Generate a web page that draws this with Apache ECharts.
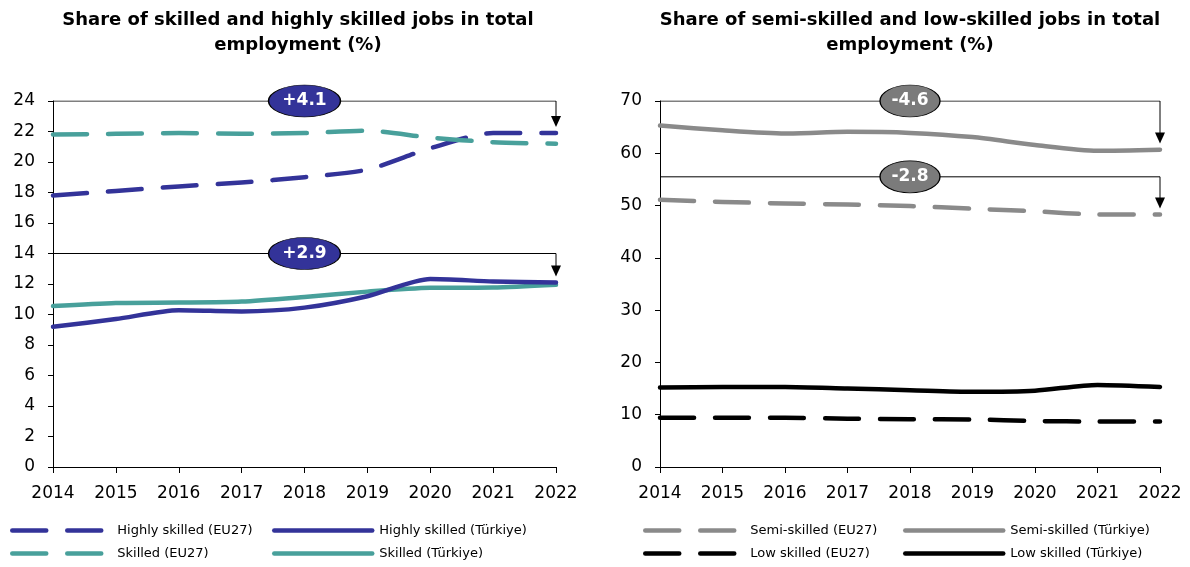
<!DOCTYPE html>
<html>
<head>
<meta charset="utf-8">
<script src="https://cdn.jsdelivr.net/npm/echarts@6/dist/echarts.min.js"></script>
<style>
  html, body { margin: 0; padding: 0; background: #ffffff; }
  #chart { width: 1190px; height: 567px; }
</style>
</head>
<body>
<div id="chart"></div>
<script>
// Years on the horizontal axis
const years = ['2014', '2015', '2016', '2017', '2018', '2019', '2020', '2021', '2022'];

// Share of jobs in total employment (%), by skill level
const highlyEU  = [17.8, 18.1, 18.4, 18.65, 19.0, 19.5, 20.9, 21.9, 21.9];
const highlyTR  = [9.2, 9.7, 10.28, 10.2, 10.45, 11.2, 12.33, 12.17, 12.1];
const skilledEU = [21.8, 21.85, 21.9, 21.85, 21.9, 22.05, 21.6, 21.3, 21.2];
const skilledTR = [10.55, 10.75, 10.78, 10.85, 11.15, 11.5, 11.75, 11.77, 11.95];

const semiEU = [51.1, 50.7, 50.4, 50.2, 49.9, 49.4, 48.9, 48.3, 48.3];
const semiTR = [65.3, 64.4, 63.8, 64.1, 63.9, 63.1, 61.6, 60.5, 60.7];
const lowEU  = [9.4, 9.4, 9.4, 9.25, 9.15, 9.1, 8.8, 8.7, 8.7];
const lowTR  = [15.2, 15.3, 15.3, 15.0, 14.7, 14.4, 14.6, 15.7, 15.3];

// Bracket heights for the change call-outs
const leftBrackets  = [24, 14];
const rightBrackets = [70, 55.5];

const NAVY = '#333399';
const TEAL = '#48a09b';
const GREY = '#8a8a8a';
const BLACK = '#000000';
const DASH = [34, 21];
const FONT = 'DejaVu Sans';
const LINE_WIDTH = 4.5;

function dataLine(name, values, color, dashed, grid) {
  return {
    name: name,
    type: 'line',
    xAxisIndex: grid,
    yAxisIndex: grid,
    data: values,
    smooth: 0.25,
    symbol: 'none',
    showSymbol: false,
    lineStyle: { color: color, width: LINE_WIDTH, type: dashed ? DASH : 'solid', cap: 'round', join: 'round' },
    itemStyle: { color: color },
    emphasis: { disabled: true },
    z: 3
  };
}

// Bracket line from the first year to the last, with an arrow down to the
// final value and a badge stating the change over the period.
function bracket(grid, level, values, arrowGap, badgeColor, badgeWidth) {
  const first = values[0];
  const last = values[values.length - 1];
  const change = last - first;
  const text = (change >= 0 ? '+' : '-') + Math.abs(change).toFixed(1);
  const endX = years[years.length - 1];
  return {
    type: 'line',
    xAxisIndex: grid,
    yAxisIndex: grid,
    silent: true,
    data: [
      { value: [years[0], level], symbol: 'none' },
      { value: [endX, level], symbol: 'none' },
      { value: [endX, last + arrowGap], symbol: 'triangle', symbolSize: [10, 11], symbolRotate: 180 }
    ],
    showSymbol: true,
    lineStyle: { color: '#000', width: 1 },
    itemStyle: { color: '#000' },
    emphasis: { disabled: true },
    z: 4,
    markPoint: {
      silent: true,
      symbol: 'circle',
      symbolSize: [badgeWidth, 32],
      itemStyle: { color: badgeColor, borderColor: '#000', borderWidth: 1 },
      label: {
        show: true, position: 'inside', formatter: text,
        color: '#fff', fontFamily: FONT, fontWeight: 'bold', fontSize: 17
      },
      data: [{ coord: ['2018', level] }],
      z: 5
    }
  };
}

// One legend column: two entries stacked vertically
function legendColumn(names, left) {
  return {
    data: names,
    left: left,
    top: 523,
    height: 44,
    orient: 'vertical',
    itemWidth: 98,
    itemHeight: 10,
    itemGap: 8,
    selectedMode: false,
    padding: 0,
    textStyle: { fontFamily: FONT, fontSize: 13, lineHeight: 15, color: '#000', padding: [0, 0, 0, 2] },
    itemStyle: { opacity: 0 },
    lineStyle: { width: LINE_WIDTH, cap: 'round' }
  };
}

const axisLabelStyle = { color: '#000', fontFamily: FONT, fontSize: 17 };

function xAxis(grid) {
  return {
    type: 'category',
    gridIndex: grid,
    data: years,
    boundaryGap: false,
    axisLine: { lineStyle: { color: '#000', width: 1 } },
    axisTick: { show: true, alignWithLabel: true, length: 6, lineStyle: { color: '#000' } },
    axisLabel: Object.assign({ margin: 18 }, axisLabelStyle),
    splitLine: { show: false }
  };
}

function yAxis(grid, max, interval) {
  return {
    type: 'value',
    gridIndex: grid,
    min: 0,
    max: max,
    interval: interval,
    axisLine: { show: true, lineStyle: { color: '#000', width: 1 } },
    axisTick: { show: true, length: 5, lineStyle: { color: '#000' } },
    axisLabel: Object.assign({ margin: 18 }, axisLabelStyle),
    splitLine: { show: false }
  };
}

const titleStyle = { fontFamily: FONT, fontSize: 18, fontWeight: 'bold', color: '#000', lineHeight: 25 };

const option = {
  backgroundColor: '#ffffff',
  animation: false,
  title: [
    {
      text: 'Share of skilled and highly skilled jobs in total\nemployment (%)',
      left: 293, top: 3, textAlign: 'center', textStyle: titleStyle
    },
    {
      text: 'Share of semi-skilled and low-skilled jobs in total\nemployment (%)',
      left: 905, top: 3, textAlign: 'center', textStyle: titleStyle
    }
  ],
  grid: [
    { left: 53, right: 634, top: 101, bottom: 100 },
    { left: 660, right: 30, top: 101, bottom: 100 }
  ],
  xAxis: [xAxis(0), xAxis(1)],
  yAxis: [yAxis(0, 24, 2), yAxis(1, 70, 10)],
  legend: [
    legendColumn(['Highly skilled (EU27)', 'Skilled (EU27)'], 10),
    legendColumn(['Highly skilled (Türkiye)', 'Skilled (Türkiye)'], 272),
    legendColumn(['Semi-skilled (EU27)', 'Low skilled (EU27)'], 643),
    legendColumn(['Semi-skilled (Türkiye)', 'Low skilled (Türkiye)'], 903)
  ],
  series: [
    dataLine('Highly skilled (EU27)', highlyEU, NAVY, true, 0),
    dataLine('Skilled (EU27)', skilledEU, TEAL, true, 0),
    dataLine('Skilled (Türkiye)', skilledTR, TEAL, false, 0),
    dataLine('Highly skilled (Türkiye)', highlyTR, NAVY, false, 0),
    bracket(0, leftBrackets[0], highlyEU, 0.75, NAVY, 72),
    bracket(0, leftBrackets[1], highlyTR, 0.75, NAVY, 72),

    dataLine('Semi-skilled (EU27)', semiEU, GREY, true, 1),
    dataLine('Semi-skilled (Türkiye)', semiTR, GREY, false, 1),
    dataLine('Low skilled (EU27)', lowEU, BLACK, true, 1),
    dataLine('Low skilled (Türkiye)', lowTR, BLACK, false, 1),
    bracket(1, rightBrackets[0], semiTR, 2.2, '#7b7b7b', 60),
    bracket(1, rightBrackets[1], semiEU, 2.2, '#7b7b7b', 60)
  ]
};

const chart = echarts.init(document.getElementById('chart'), null, { renderer: 'canvas' });
chart.setOption(option);
</script>
</body>
</html>
